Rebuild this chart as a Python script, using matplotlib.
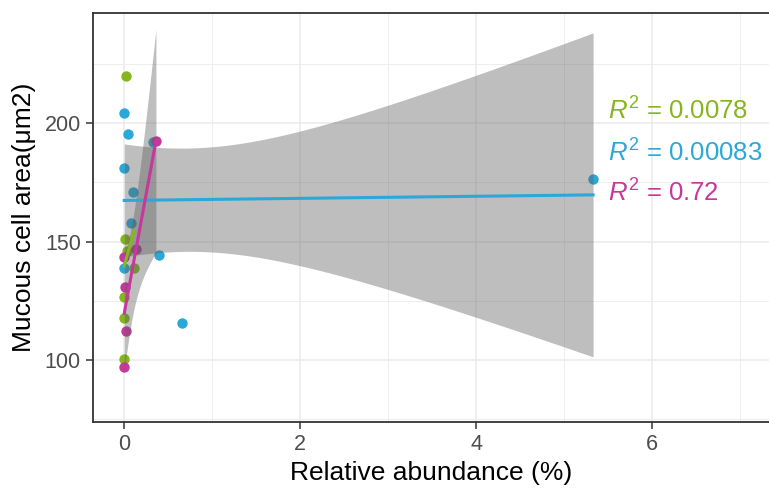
import matplotlib
matplotlib.use("Agg")
import matplotlib.pyplot as plt
import numpy as np

# data (x = relative abundance %, y = mucous cell area)
green_x = [0.02, 0.01, 0.03, 0.11, 0.00, 0.00, 0.00]
green_y = [220.0, 151.0, 146.0, 139.0, 126.7, 117.6, 100.3]
blue_x = [0.00, 0.04, 0.00, 0.10, 0.08, 0.40, 0.00, 0.66, 5.33, 0.33]
blue_y = [204.5, 195.4, 181.0, 170.8, 158.0, 144.4, 139.0, 115.5, 176.3, 192.2]
pink_x = [0.00, 0.01, 0.02, 0.00, 0.13, 0.36]
pink_y = [143.4, 131.0, 112.3, 97.2, 147.0, 192.5]

r2_labels = ["0.0078", "0.00083", "0.72"]
r2_y = [205.0, 187.5, 170.5]

GREEN = "#87B520"
BLUE = "#2AA8D8"
PINK = "#C6389C"

T975 = {1: 12.706, 2: 4.303, 3: 3.182, 4: 2.776, 5: 2.571, 6: 2.447, 7: 2.365,
        8: 2.306, 9: 2.262, 10: 2.228, 11: 2.201, 12: 2.179, 13: 2.160}

plt.rcParams["font.family"] = "Liberation Sans"
plt.rcParams["mathtext.fontset"] = "custom"
plt.rcParams["mathtext.rm"] = "Liberation Sans"
plt.rcParams["mathtext.it"] = "Liberation Sans:italic"


def lm_band(x, y, n_grid=80):
    x = np.asarray(x, float)
    y = np.asarray(y, float)
    n = len(x)
    slope, icpt = np.polyfit(x, y, 1)
    resid = y - (icpt + slope * x)
    s = np.sqrt(np.sum(resid ** 2) / (n - 2))
    sxx = np.sum((x - x.mean()) ** 2)
    xg = np.linspace(x.min(), x.max(), n_grid)
    yg = icpt + slope * xg
    hw = T975[n - 2] * s * np.sqrt(1.0 / n + (xg - x.mean()) ** 2 / sxx)
    return xg, yg, yg - hw, yg + hw


fig = plt.figure(figsize=(7.69, 4.90), dpi=100)
ax = fig.add_axes([0.1213, 0.1394, 0.8787, 0.8335])

# (x, y, colour, draw confidence band)
groups = [(green_x, green_y, GREEN, False),
          (blue_x, blue_y, BLUE, True),
          (pink_x, pink_y, PINK, True)]
for gx, gy, col, _ in groups:
    ax.scatter(gx, gy, s=56, color=col, linewidths=0, zorder=2)

for gx, gy, col, band in groups:
    xg, yg, lo, hi = lm_band(gx, gy)
    if band:
        ax.fill_between(xg, lo, hi, color="#5E5E5E", alpha=0.4, linewidth=0, zorder=3)
    ax.plot(xg, yg, color=col, linewidth=2.2, zorder=4)

for (gx, gy, col, _), lab, yy in zip(groups, r2_labels, r2_y):
    ax.text(5.5, yy, r"$R^2$ = " + lab, color=col, fontsize=18.5,
            ha="left", va="center", zorder=5)

ax.set_xlim(-0.352, 7.33)
ax.set_ylim(73.9, 246.5)
ax.set_xticks([0, 2, 4, 6])
ax.set_xticks([1, 3, 5, 7], minor=True)
ax.set_yticks([100, 150, 200])
ax.set_yticks([75, 125, 175, 225], minor=True)
ax.grid(which="major", color="#EBEBEB", linewidth=1.1, zorder=0)
ax.grid(which="minor", color="#EBEBEB", linewidth=0.6, zorder=0)
ax.set_axisbelow(True)

for side in ["left", "top", "bottom"]:
    ax.spines[side].set_color("#333333")
    ax.spines[side].set_linewidth(1.3)
ax.spines["right"].set_visible(False)

ax.tick_params(which="major", length=5, width=1.1, color="#333333",
               labelcolor="#4D4D4D", labelsize=15.5, pad=4)
ax.tick_params(which="minor", length=0)
ax.set_xlabel("Relative abundance (%)", fontsize=19, color="black", labelpad=4)
ax.set_ylabel("Mucous cell area(\u03bcm2)", fontsize=19, color="black", labelpad=6)

fig.savefig("out.png", dpi=100)
